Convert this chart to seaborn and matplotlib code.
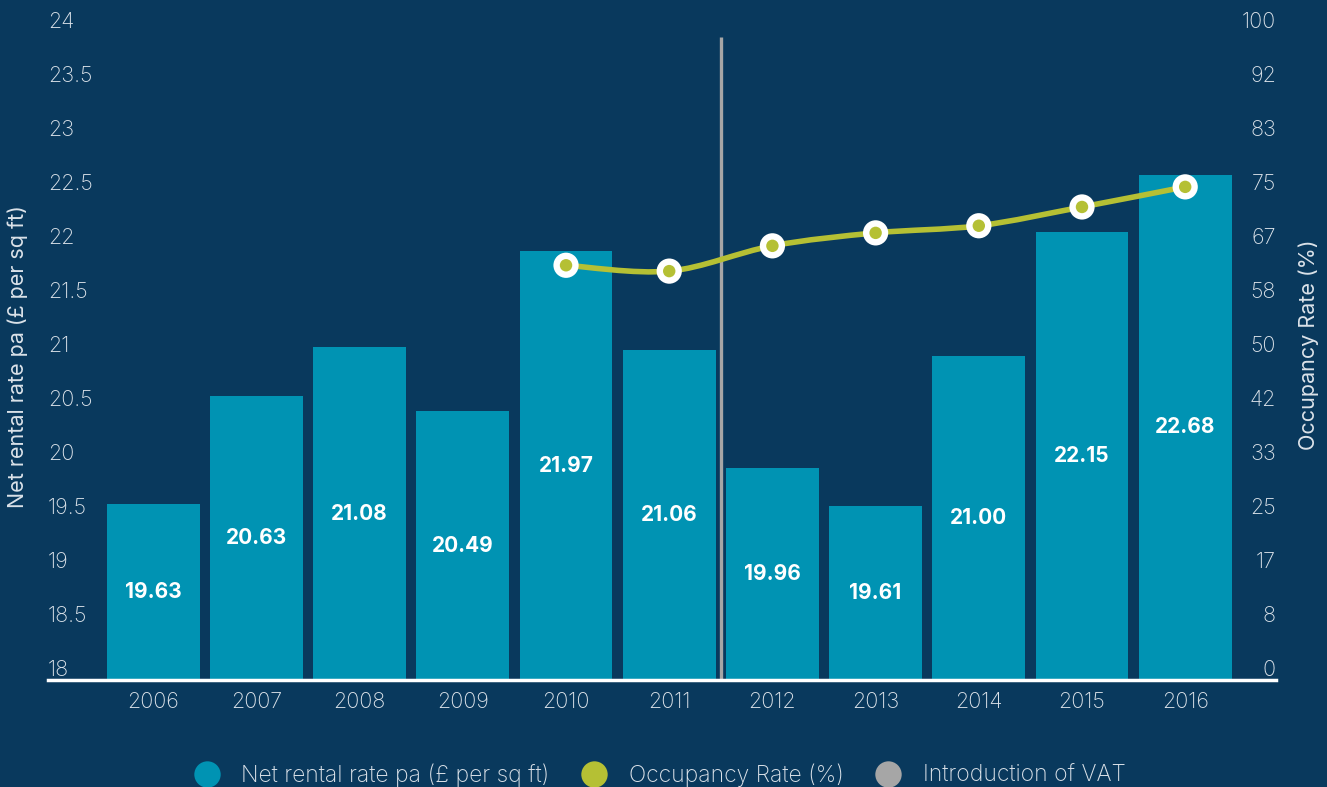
import numpy as np
import pandas as pd
import matplotlib
matplotlib.use("Agg")
import matplotlib.pyplot as plt
from matplotlib.path import Path
from matplotlib.patches import PathPatch
from matplotlib.lines import Line2D
import seaborn as sns

# ---- data ----
years = ["2006", "2007", "2008", "2009", "2010", "2011",
         "2012", "2013", "2014", "2015", "2016"]
rental_rate = [19.63, 20.63, 21.08, 20.49, 21.97, 21.06,
               19.96, 19.61, 21.00, 22.15, 22.68]
occupancy_years = ["2010", "2011", "2012", "2013", "2014", "2015", "2016"]
occupancy_rate = [64.0, 63.1, 67.0, 69.0, 70.1, 73.0, 76.1]
vat_position = 5.5  # between 2011 and 2012

left_ticks = [18, 18.5, 19, 19.5, 20, 20.5, 21, 21.5, 22, 22.5, 23, 23.5, 24]
left_tick_labels = ["18", "18.5", "19", "19.5", "20", "20.5", "21",
                    "21.5", "22", "22.5", "23", "23.5", "24"]
right_ticks = list(np.linspace(0, 100, 13))
right_tick_labels = ["0", "8", "17", "25", "33", "42", "50",
                     "58", "67", "75", "83", "92", "100"]

BG = "#09395d"
BAR = "#0093b3"
LINE = "#b5c034"
VAT = "#a6a6a6"
TXT = "#dbe2e9"
FS = 15.5

sns.set_theme(style="white")
plt.rcParams["font.family"] = ["Inter", "DejaVu Sans"]
plt.rcParams["font.weight"] = "light"

fig = plt.figure(figsize=(13.27, 7.87), dpi=100, facecolor=BG)
ax = fig.add_axes([48 / 1327, 107 / 787, (1276 - 48) / 1327, 648 / 787])
ax.set_facecolor(BG)

df = pd.DataFrame({"year": years, "rate": rental_rate})
sns.barplot(data=df, x="year", y="rate", color=BAR, saturation=1,
            width=0.9, ax=ax, zorder=2)
# bars start from the axis floor at 18
for patch, v in zip(ax.patches, rental_rate):
    patch.set_y(18)
    patch.set_height(v - 18)
    patch.set_edgecolor("none")

ax.set_xlim(-1.02, 10.88)
ax.set_ylim(18, 24)

# value labels in the middle of each bar
for i, v in enumerate(rental_rate):
    ax.text(i, (18 + v) / 2, f"{v:.2f}", ha="center", va="center",
            color="white", fontsize=15, fontweight="bold", zorder=5)

# VAT introduction marker
ax.plot([vat_position, vat_position], [18, 23.95], color=VAT, lw=2.4,
        zorder=3, solid_capstyle="butt")

# axes styling
for s in ["top", "left", "right"]:
    ax.spines[s].set_visible(False)
ax.spines["bottom"].set_color("white")
ax.spines["bottom"].set_linewidth(2.5)
ax.spines["bottom"].set_zorder(6)
ax.set_xlabel("")
ax.set_ylabel("Net rental rate pa (£ per sq ft)", color=TXT, fontsize=FS)
ax.yaxis.set_label_coords(-0.0163, 0.5)
ax.set_yticks(left_ticks)
ax.set_yticklabels(left_tick_labels)
ax.tick_params(axis="y", length=0, pad=0, labelsize=FS, labelcolor=TXT)
for lab in ax.get_yticklabels():
    lab.set_horizontalalignment("left")
    lab.set_verticalalignment("bottom")
ax.tick_params(axis="x", length=0, pad=9, labelsize=FS, labelcolor=TXT)

# occupancy on the secondary axis
ax2 = ax.twinx()
ax2.set_ylim(0, 100)
ax2.set_yticks(right_ticks)
ax2.set_yticklabels(right_tick_labels)
ax2.tick_params(axis="y", length=0, pad=0, labelsize=FS, labelcolor=TXT)
for lab in ax2.get_yticklabels():
    lab.set_horizontalalignment("right")
    lab.set_verticalalignment("bottom")
for s in ax2.spines.values():
    s.set_visible(False)
ax2.set_ylabel("Occupancy Rate (%)", color=TXT, fontsize=FS)
ax2.yaxis.set_label_coords(1.0187, 0.517)

xpos = [years.index(y) for y in occupancy_years]
# smooth curve through the points (Catmull-Rom as cubic Bezier segments)
pts = np.column_stack([xpos, occupancy_rate]).astype(float)
verts = [tuple(pts[0])]
codes = [Path.MOVETO]
t = 0.5
for i in range(len(pts) - 1):
    p0 = pts[i - 1] if i > 0 else pts[i]
    p1, p2 = pts[i], pts[i + 1]
    p3 = pts[i + 2] if i + 2 < len(pts) else pts[i + 1]
    c1 = p1 + (p2 - p0) * t / 3
    c2 = p2 - (p3 - p1) * t / 3
    verts += [tuple(c1), tuple(c2), tuple(p2)]
    codes += [Path.CURVE4] * 3
ax2.add_patch(PathPatch(Path(verts, codes), facecolor="none",
                        edgecolor=LINE, lw=4, zorder=3))

odf = pd.DataFrame({"x": xpos, "occ": occupancy_rate})
sns.scatterplot(data=odf, x="x", y="occ", ax=ax2, s=330, color="white",
                edgecolor="none", zorder=4, legend=False)
sns.scatterplot(data=odf, x="x", y="occ", ax=ax2, s=80, color=LINE,
                edgecolor="none", zorder=5, legend=False)
ax2.set_xlim(-1.02, 10.88)
ax2.set_xlabel("")

# legend
handles = [
    Line2D([], [], ls="none", marker="o", ms=19, mfc=BAR, mec="none"),
    Line2D([], [], ls="none", marker="o", ms=19, mfc=LINE, mec="none"),
    Line2D([], [], ls="none", marker="o", ms=19, mfc=VAT, mec="none"),
]
labels = ["Net rental rate pa (£ per sq ft)", "Occupancy Rate (%)",
          "Introduction of VAT"]
fig.legend(handles, labels, loc="center", bbox_to_anchor=(0.4935, 12 / 787),
           ncol=3, frameon=False, fontsize=16.5, labelcolor=TXT,
           handletextpad=0.5, columnspacing=0.95)

fig.savefig("out.png", dpi=100, facecolor=BG)
